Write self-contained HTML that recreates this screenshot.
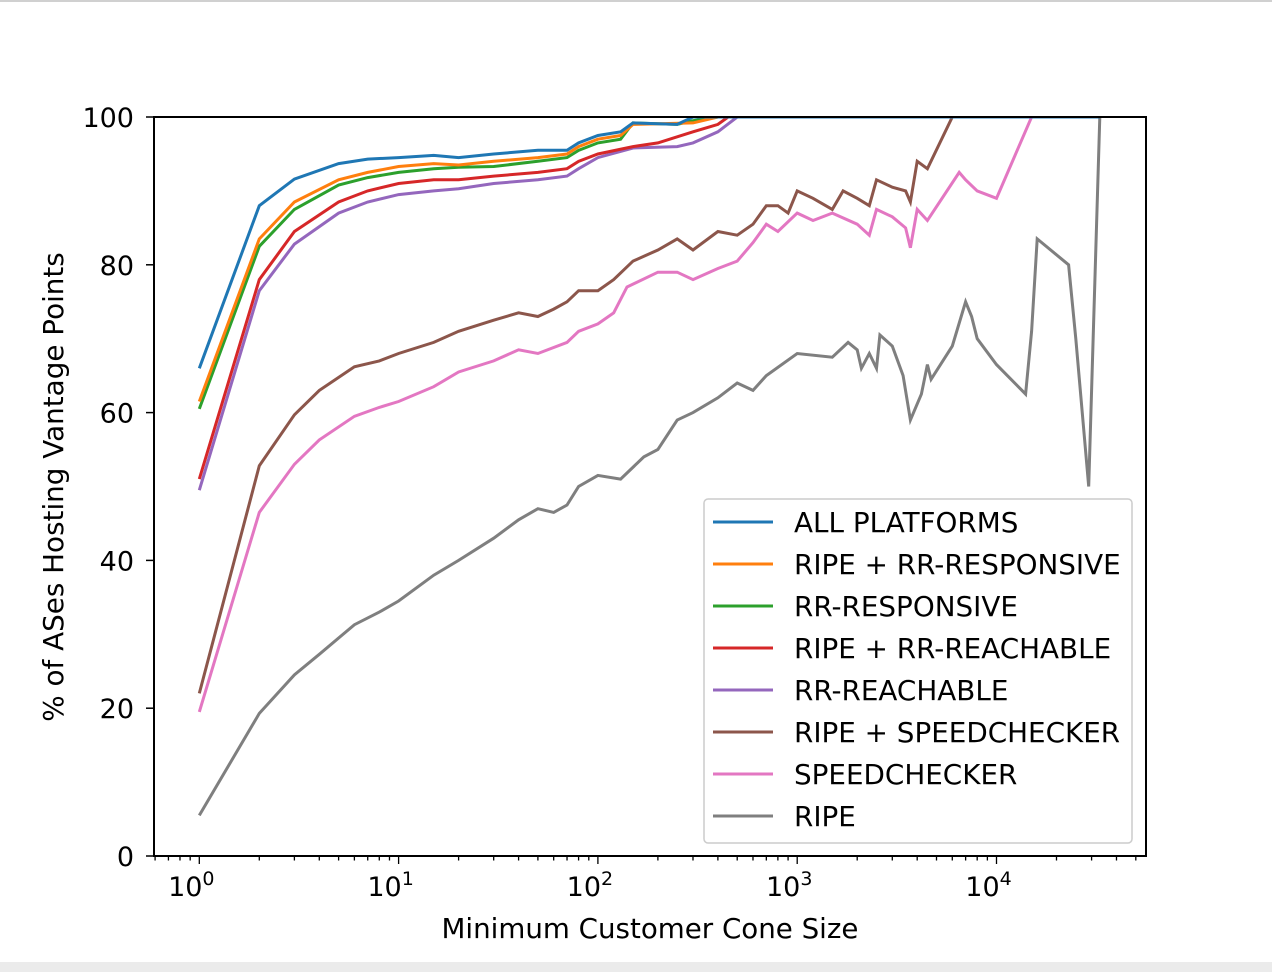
<!DOCTYPE html>
<html><head><meta charset="utf-8"><style>
body{margin:0;width:1272px;height:972px;background:#fff;overflow:hidden;font-family:"DejaVu Sans","Liberation Sans",sans-serif}
svg text{font-family:"DejaVu Sans","Liberation Sans",sans-serif}
</style></head><body>
<svg id="chart" width="1272" height="972">
<rect x="0" y="0" width="1272" height="2" fill="#d0d0d0"/>
<rect x="0" y="962" width="1272" height="10" fill="#ebebeb"/>
<g id="plot"></g>
</svg>
<script>
const xs1=[1,2,3,5,7,10,15,20,30,50,70,80,100,130,150,250,300,33000];
const allP=[66,88,91.6,93.7,94.3,94.5,94.8,94.5,95,95.5,95.5,96.5,97.5,98,99.2,99,100,100];
const xs2=[1,2,3,5,7,10,15,20,30,50,70,80,100,130,150,300,400,33000];
const ripeRrResp=[61.5,83.5,88.5,91.5,92.5,93.3,93.7,93.5,94,94.5,95,96,97,97.5,99,99.2,100,100];
const xs3=[1,2,3,5,7,10,15,20,30,50,70,80,100,130,150,250,300,400,33000];
const rrResp=[60.5,82.5,87.5,90.8,91.8,92.5,93,93.2,93.3,94,94.5,95.5,96.5,97,99.2,99,99.5,100,100];
const xs4=[1,2,3,5,7,10,15,20,30,50,70,80,100,150,200,300,400,450,33000];
const ripeRrReach=[51,78,84.5,88.5,90,91,91.5,91.5,92,92.5,93,94,95,96,96.5,98,99,100,100];
const xs5=[1,2,3,5,7,10,15,20,30,50,70,80,100,150,250,300,400,500,33000];
const rrReach=[49.5,76.5,82.8,87,88.5,89.5,90,90.3,91,91.5,92,93,94.5,95.8,96,96.5,98,100,100];
const xs6=[1,2,3,4,6,8,10,15,20,30,40,50,60,70,80,100,120,150,200,250,300,400,500,600,700,800,900,1000,1200,1500,1700,2000,2300,2500,3000,3500,3700,4000,4500,6000,33000];
const ripeSpeed=[22,52.8,59.7,63,66.2,67,68,69.5,71,72.5,73.5,73,74,75,76.5,76.5,78,80.5,82,83.5,82,84.5,84,85.5,88,88,87,90,89,87.5,90,89,88,91.5,90.5,90,88.5,94,93,100,100];
const xs7=[1,2,3,4,6,8,10,15,20,30,40,50,70,80,100,120,140,200,250,300,400,500,600,700,800,1000,1200,1500,2000,2300,2500,3000,3500,3700,4000,4500,6500,7000,8000,10000,15000,33000];
const speed=[19.5,46.5,53,56.3,59.5,60.7,61.5,63.5,65.5,67,68.5,68,69.5,71,72,73.5,77,79,79,78,79.5,80.5,83,85.5,84.5,87,86,87,85.5,84,87.5,86.5,85,82.3,87.5,86,92.5,91.5,90,89,100,100];
const xs8=[1,2,3,4,6,8,10,15,20,30,40,50,60,70,80,100,130,170,200,250,300,400,500,600,700,1000,1500,1800,2000,2100,2300,2500,2600,3000,3400,3700,4200,4500,4700,6000,7000,7500,8000,10000,14000,15000,16000,23000,25000,29000,33000];
const ripe=[5.5,19.3,24.5,27.3,31.3,33,34.5,38,40,43,45.5,47,46.5,47.5,50,51.5,51,54,55,59,60,62,64,63,65,68,67.5,69.5,68.5,66,68,66,70.5,69,65,59,62.5,66.5,64.5,69,75,73,70,66.5,62.5,71,83.5,80,70,50,100];
const names=["ALL PLATFORMS","RIPE + RR-RESPONSIVE","RR-RESPONSIVE","RIPE + RR-REACHABLE","RR-REACHABLE","RIPE + SPEEDCHECKER","SPEEDCHECKER","RIPE"];
const colors=["#1f77b4","#ff7f0e","#2ca02c","#d62728","#9467bd","#8c564b","#e377c2","#7f7f7f"];
const yticks=[0,20,40,60,80,100];
const xdec=[0,1,2,3,4];
const series=[[xs8,ripe],[xs7,speed],[xs6,ripeSpeed],[xs5,rrReach],[xs4,ripeRrReach],[xs3,rrResp],[xs2,ripeRrResp],[xs1,allP]];
const L=154,R=1146,T=117,B=856,X0=199.3,DEC=199.3;
const X=v=>X0+Math.log10(v)*DEC, Y=v=>B-(v/100)*(B-T);
const NS="http://www.w3.org/2000/svg",g=document.getElementById('plot');
function mk(t,a,p){const e=document.createElementNS(NS,t);for(const k in a)e.setAttribute(k,a[k]);(p||g).appendChild(e);return e;}
const clip=mk('clipPath',{id:'cp'});mk('rect',{x:L,y:T,width:R-L,height:B-T},clip);
series.forEach((s,i)=>{const c=colors[7-i];
 const p=mk('path',{d:s[0].map((x,j)=>(j?'L':'M')+X(x).toFixed(1)+','+Y(s[1][j]).toFixed(1)).join(''),fill:'none',stroke:c,'stroke-width':3,'clip-path':'url(#cp)'});
 
 
});
const fr=mk('rect',{x:L,y:T,width:R-L,height:B-T,fill:'none',stroke:'#000','stroke-width':2});


yticks.forEach(v=>{mk('line',{x1:L-8,x2:L,y1:Y(v),y2:Y(v),stroke:'#000','stroke-width':1.5});
 const t=mk('text',{x:L-20,y:Y(v)+10,'text-anchor':'end','font-size':27});t.textContent=v;
 
 });
for(let d=-1;d<=4;d++){for(let m=1;m<10;m++){const v=Math.pow(10,d)*m,x=X(v);if(x<L||x>R)continue;
 mk('line',{x1:x,x2:x,y1:B,y2:B+(m==1?8:4.5),stroke:'#000','stroke-width':1.3});}}
xdec.forEach(d=>{const t=mk('text',{x:X(Math.pow(10,d))-8,y:B+40,'text-anchor':'middle','font-size':27});t.textContent='10';
 const s=mk('tspan',{dy:-11,'font-size':19},t);s.textContent=d;
 
 });
const xt=mk('text',{x:650,y:938,'text-anchor':'middle','font-size':27.7});xt.textContent='Minimum Customer Cone Size';


const yt=mk('text',{x:0,y:0,'text-anchor':'middle','font-size':27.8,transform:'translate(63,487) rotate(-90)'});yt.textContent='% of ASes Hosting Vantage Points';


const lg=mk('rect',{x:704,y:499,width:428,height:344,rx:4,fill:'#fff','fill-opacity':0.85,stroke:'#ccc','stroke-width':1.5});


names.forEach((n,i)=>{const y=522+i*42;
 mk('line',{x1:713,x2:773,y1:y,y2:y,stroke:colors[i],'stroke-width':3});
 const t=mk('text',{x:794,y:y+10,'font-size':27.8});t.textContent=n;
 
 });
</script>
</body></html>
